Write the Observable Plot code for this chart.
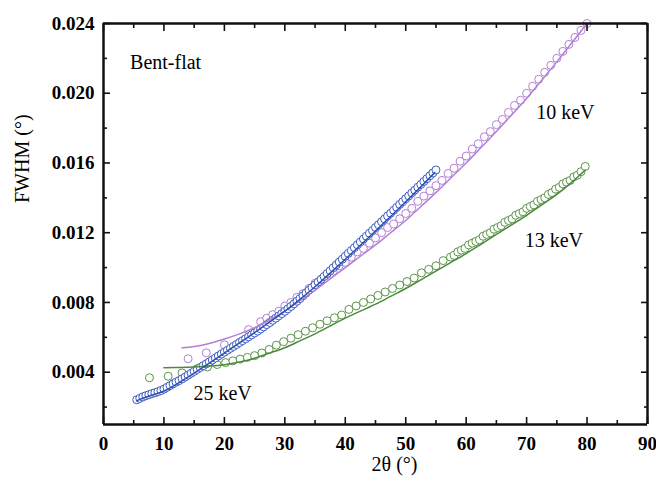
<!DOCTYPE html>
<html><head><meta charset="utf-8">
<script src="https://cdn.jsdelivr.net/npm/d3@7"></script>
<script src="https://cdn.jsdelivr.net/npm/@observablehq/plot@0.6"></script>
<style>body{margin:0;background:#fff;}</style>
</head><body><div id="chart"></div>
<script>
// 25 keV measured points
const blueX = [5.5,6,6.5,7,7.5,8,8.5,9,9.5,10,10.5,11,11.5,12,12.5,13,13.5,14,14.5,15,15.5,16,16.5,17,17.5,18,18.5,19,19.5,20,20.5,21,21.5,22,22.5,23,23.5,24,24.5,25,25.5,26,26.5,27,27.5,28,28.5,29,29.5,30,30.5,31,31.5,32,32.5,33,33.5,34,34.5,35,35.5,36,36.5,37,37.5,38,38.5,39,39.5,40,40.5,41,41.5,42,42.5,43,43.5,44,44.5,45,45.5,46,46.5,47,47.5,48,48.5,49,49.5,50,50.5,51,51.5,52,52.5,53,53.5,54,54.5,55];
const blueY = [.00242,.00250,.00258,.00265,.00271,.00277,.00282,.00288,.00295,.00303,.00313,.00323,.00333,.00343,.00352,.00362,.00372,.00383,.00394,.00405,.00416,.00427,.00437,.00448,.00459,.00470,.00481,.00493,.00504,.00515,.00526,.00537,.00548,.00559,.00570,.00581,.00592,.00603,.00614,.00625,.00636,.00648,.00660,.00673,.00685,.00698,.00710,.00723,.00736,.00749,.00763,.00777,.00792,.00807,.00822,.00838,.00854,.00870,.00885,.00901,.00917,.00933,.00949,.00966,.00982,.00999,.01015,.01032,.01048,.01065,.01081,.01098,.01114,.01131,.01147,.01164,.01180,.01197,.01213,.01230,.01246,.01263,.01279,.01296,.01312,.01329,.01345,.01362,.01378,.01395,.01411,.01428,.01444,.01461,.01477,.01494,.01510,.01527,.01543,.01560];
// 10 keV measured points
const purpleX = [14,17,20,24,26,27,28,29,30,31,32,33,34,35,36,37,38,39,40,41,42,43,44,45,46,47,48,49,50,51,52,53,54,55,56,57,58,59,60,61,62,63,64,65,66,67,68,69,70,71,72,73,74,75,76,77,78,79,80];
const purpleY = [.00477,.00511,.00557,.00644,.0069,.0071,.0073,.0075,.0078,.0080,.0083,.0085,.0088,.0091,.0093,.0096,.0098,.0101,.0103,.0106,.0109,.0111,.0114,.0117,.0120,.0123,.0125,.0128,.0131,.0134,.0138,.0141,.0144,.0147,.0150,.0154,.0157,.0161,.0164,.0168,.0171,.0175,.0178,.0182,.0185,.0189,.0193,.0196,.0200,.0204,.0208,.0212,.0216,.0220,.0224,.0228,.0232,.0236,.0240];
// 13 keV measured points
const greenX = [7.6,10.7,13,15.5,17.2,18.8,20.2,21.4,22.6,23.8,25,26.2,27.4,28.6,29.8,31,32.2,33.4,34.6,35.8,37,38.2,39.4,40.6,41.8,43,44.2,45.4,46.6,47.8,49,50.2,51.4,52.6,53.8,55,56.2,57.4,58,58.6,59.2,59.8,60.4,61,61.6,62.2,62.8,63.4,64,64.6,65.2,65.8,66.4,67,67.6,68.2,68.8,69.4,70,70.6,71.2,71.8,72.4,73,73.6,74.2,74.8,75.4,76,76.6,77.2,77.8,78.4,79,79.7];
const greenY = [.00368,.00377,.00396,.0042,.0043,.00444,.00455,.00465,.00475,.00485,.00495,.0051,.0053,.00555,.00575,.00595,.00615,.00635,.00655,.00675,.00695,.00712,.00728,.0076,.0078,.0080,.0082,.0084,.0086,.0088,.0090,.0092,.0094,.0097,.0099,.0101,.0104,.0106,.0107,.0109,.0110,.0111,.0113,.0114,.0115,.0116,.0118,.0119,.0120,.0122,.0123,.0124,.0126,.0127,.0128,.0130,.0131,.0132,.0134,.0135,.0136,.0138,.0139,.0140,.0142,.0143,.0145,.0146,.0148,.0149,.0150,.0152,.0153,.0155,.0158];
// fitted curves
const blueFitX = [5.5,7.5,10,12.5,15,17.5,20,22.5,25,27.5,30,32.5,35,37.5,40,42.5,45,47.5,50,52.5,54.8];
const blueFitY = [.00237,.00262,.00292,.00340,.00395,.00452,.00510,.00568,.00627,.00688,.00750,.00818,.00890,.00968,.01048,.01128,.01210,.01293,.01378,.01463,.01545];
const purpleFitX = [13,15,17.5,20,22.5,25,27.5,30,32.5,35,37.5,40,42.5,45,47.5,50,52.5,55,57.5,60,62.5,65,67.5,70,72.5,75,77.5,80];
const purpleFitY = [.0054,.00548,.00565,.0059,.0062,.00655,.0070,.0075,.0081,.0087,.00935,.0100,.01065,.0113,.0120,.0127,.0135,.0143,.01515,.0160,.0169,.0178,.01875,.0197,.02075,.0218,.0229,.0240];
const greenFitX = [10,12.5,15,17.5,20,22.5,25,27.5,30,32.5,35,37.5,40,42.5,45,47.5,50,52.5,55,57.5,60,62.5,65,67.5,70,72.5,75,77.5,79.7];
const greenFitY = [.00425,.00427,.0043,.00435,.00443,.00458,.0048,.0051,.0054,.0058,.0062,.00665,.0071,.0075,.0079,.00835,.0088,.0093,.0098,.0103,.0108,.01135,.0119,.01245,.0130,.0136,.0142,.0149,.0156];
// annotations
const titleText = ["Bent-flat"];
const titleX = [4.4];
const titleY = [0.02175];
const noteText = ["10 keV", "13 keV", "25 keV"];
const noteX = [76.4, 74.5, 19.7];
const noteY = [0.0189, 0.01157, 0.00278];
// ticks
const xMajor = [0,10,20,30,40,50,60,70,80,90];
const xMinor = [5,15,25,35,45,55,65,75,85];
const yMajor = [0.004,0.008,0.012,0.016,0.020,0.024];
const yMinor = [0.002,0.006,0.010,0.014,0.018,0.022];
const xDomain = [0, 90];
const yDomain = [0.001, 0.024];

const zip = (xs, ys) => xs.map((x, i) => ({x, y: ys[i]}));
const blue = zip(blueX, blueY), purple = zip(purpleX, purpleY), green = zip(greenX, greenY);
const blueFit = zip(blueFitX, blueFitY), purpleFit = zip(purpleFitX, purpleFitY), greenFit = zip(greenFitX, greenFitY);
const titles = titleText.map((t, i) => ({t, x: titleX[i], y: titleY[i]}));
const notes = noteText.map((t, i) => ({t, x: noteX[i], y: noteY[i]}));

const C = {blue: "#3a5cc2", blueL: "#2c4db3", purple: "#b47fd6", purpleL: "#b27fd4", green: "#5c944a", greenL: "#4b8a3b", axis: "#111111"};
const empty = () => "";
const tk = {tickFormat: empty, label: null, strokeWidth: 1.6, stroke: C.axis};

const chart = Plot.plot({
  width: 656, height: 484,
  marginLeft: 103, marginRight: 9, marginTop: 23, marginBottom: 60,
  style: {fontFamily: "'Liberation Serif', 'Times New Roman', serif", fontSize: "19px"},
  x: {domain: xDomain, label: null},
  y: {domain: yDomain, label: null},
  marks: [
    Plot.dot(green, {x: "x", y: "y", r: 4, fill: "white", stroke: C.green, strokeWidth: 1}),
    Plot.dot(purple, {x: "x", y: "y", r: 4, fill: "white", stroke: C.purple, strokeWidth: 1}),
    Plot.dot(blue, {x: "x", y: "y", r: 4, fill: "white", stroke: C.blue, strokeWidth: 1}),
    Plot.line(greenFit, {x: "x", y: "y", stroke: C.greenL, strokeWidth: 1.5, curve: "natural"}),
    Plot.line(purpleFit, {x: "x", y: "y", stroke: C.purpleL, strokeWidth: 1.5, curve: "natural"}),
    Plot.line(blueFit, {x: "x", y: "y", stroke: C.blueL, strokeWidth: 1.5, curve: "natural"}),
    Plot.text(titles, {x: "x", y: "y", text: "t", textAnchor: "start", fontSize: 20, fill: "black"}),
    Plot.text(notes, {x: "x", y: "y", text: "t", textAnchor: "middle", fontSize: 20, fill: "black"}),
    Plot.axisX({anchor: "bottom", ticks: xMajor, tickSize: 0, tickPadding: 12, tickFormat: (d) => d, fontWeight: "bold", fontSize: 19, label: null}),
    Plot.axisY({anchor: "left", ticks: yMajor, tickSize: 0, tickPadding: 9, tickFormat: d3.format(".3f"), fontWeight: "bold", fontSize: 19, label: null}),
    Plot.axisX({anchor: "bottom", ticks: xMajor, tickSize: 7, dy: -7, ...tk}),
    Plot.axisX({anchor: "bottom", ticks: xMinor, tickSize: 4, dy: -4, ...tk}),
    Plot.axisX({anchor: "top", ticks: xMajor, tickSize: 7, dy: 7, ...tk}),
    Plot.axisX({anchor: "top", ticks: xMinor, tickSize: 4, dy: 4, ...tk}),
    Plot.axisY({anchor: "left", ticks: yMajor, tickSize: 7, dx: 7, ...tk}),
    Plot.axisY({anchor: "left", ticks: yMinor, tickSize: 4, dx: 4, ...tk}),
    Plot.axisY({anchor: "right", ticks: yMajor, tickSize: 7, dx: -7, ...tk}),
    Plot.axisY({anchor: "right", ticks: yMinor, tickSize: 4, dx: -4, ...tk}),
    Plot.ruleX(xDomain, {stroke: C.axis, strokeWidth: 2.5}),
    Plot.ruleY(yDomain, {stroke: C.axis, strokeWidth: 2.5}),
    Plot.text(["FWHM (°)"], {frameAnchor: "left", dx: -81, dy: -21, rotate: -90, fontSize: 20, fill: "black"}),
    Plot.text(["2θ (°)"], {frameAnchor: "bottom", dx: 19, dy: 46, fontSize: 20, fill: "black"})
  ]
});
document.getElementById("chart").append(chart);
</script>
</body></html>
